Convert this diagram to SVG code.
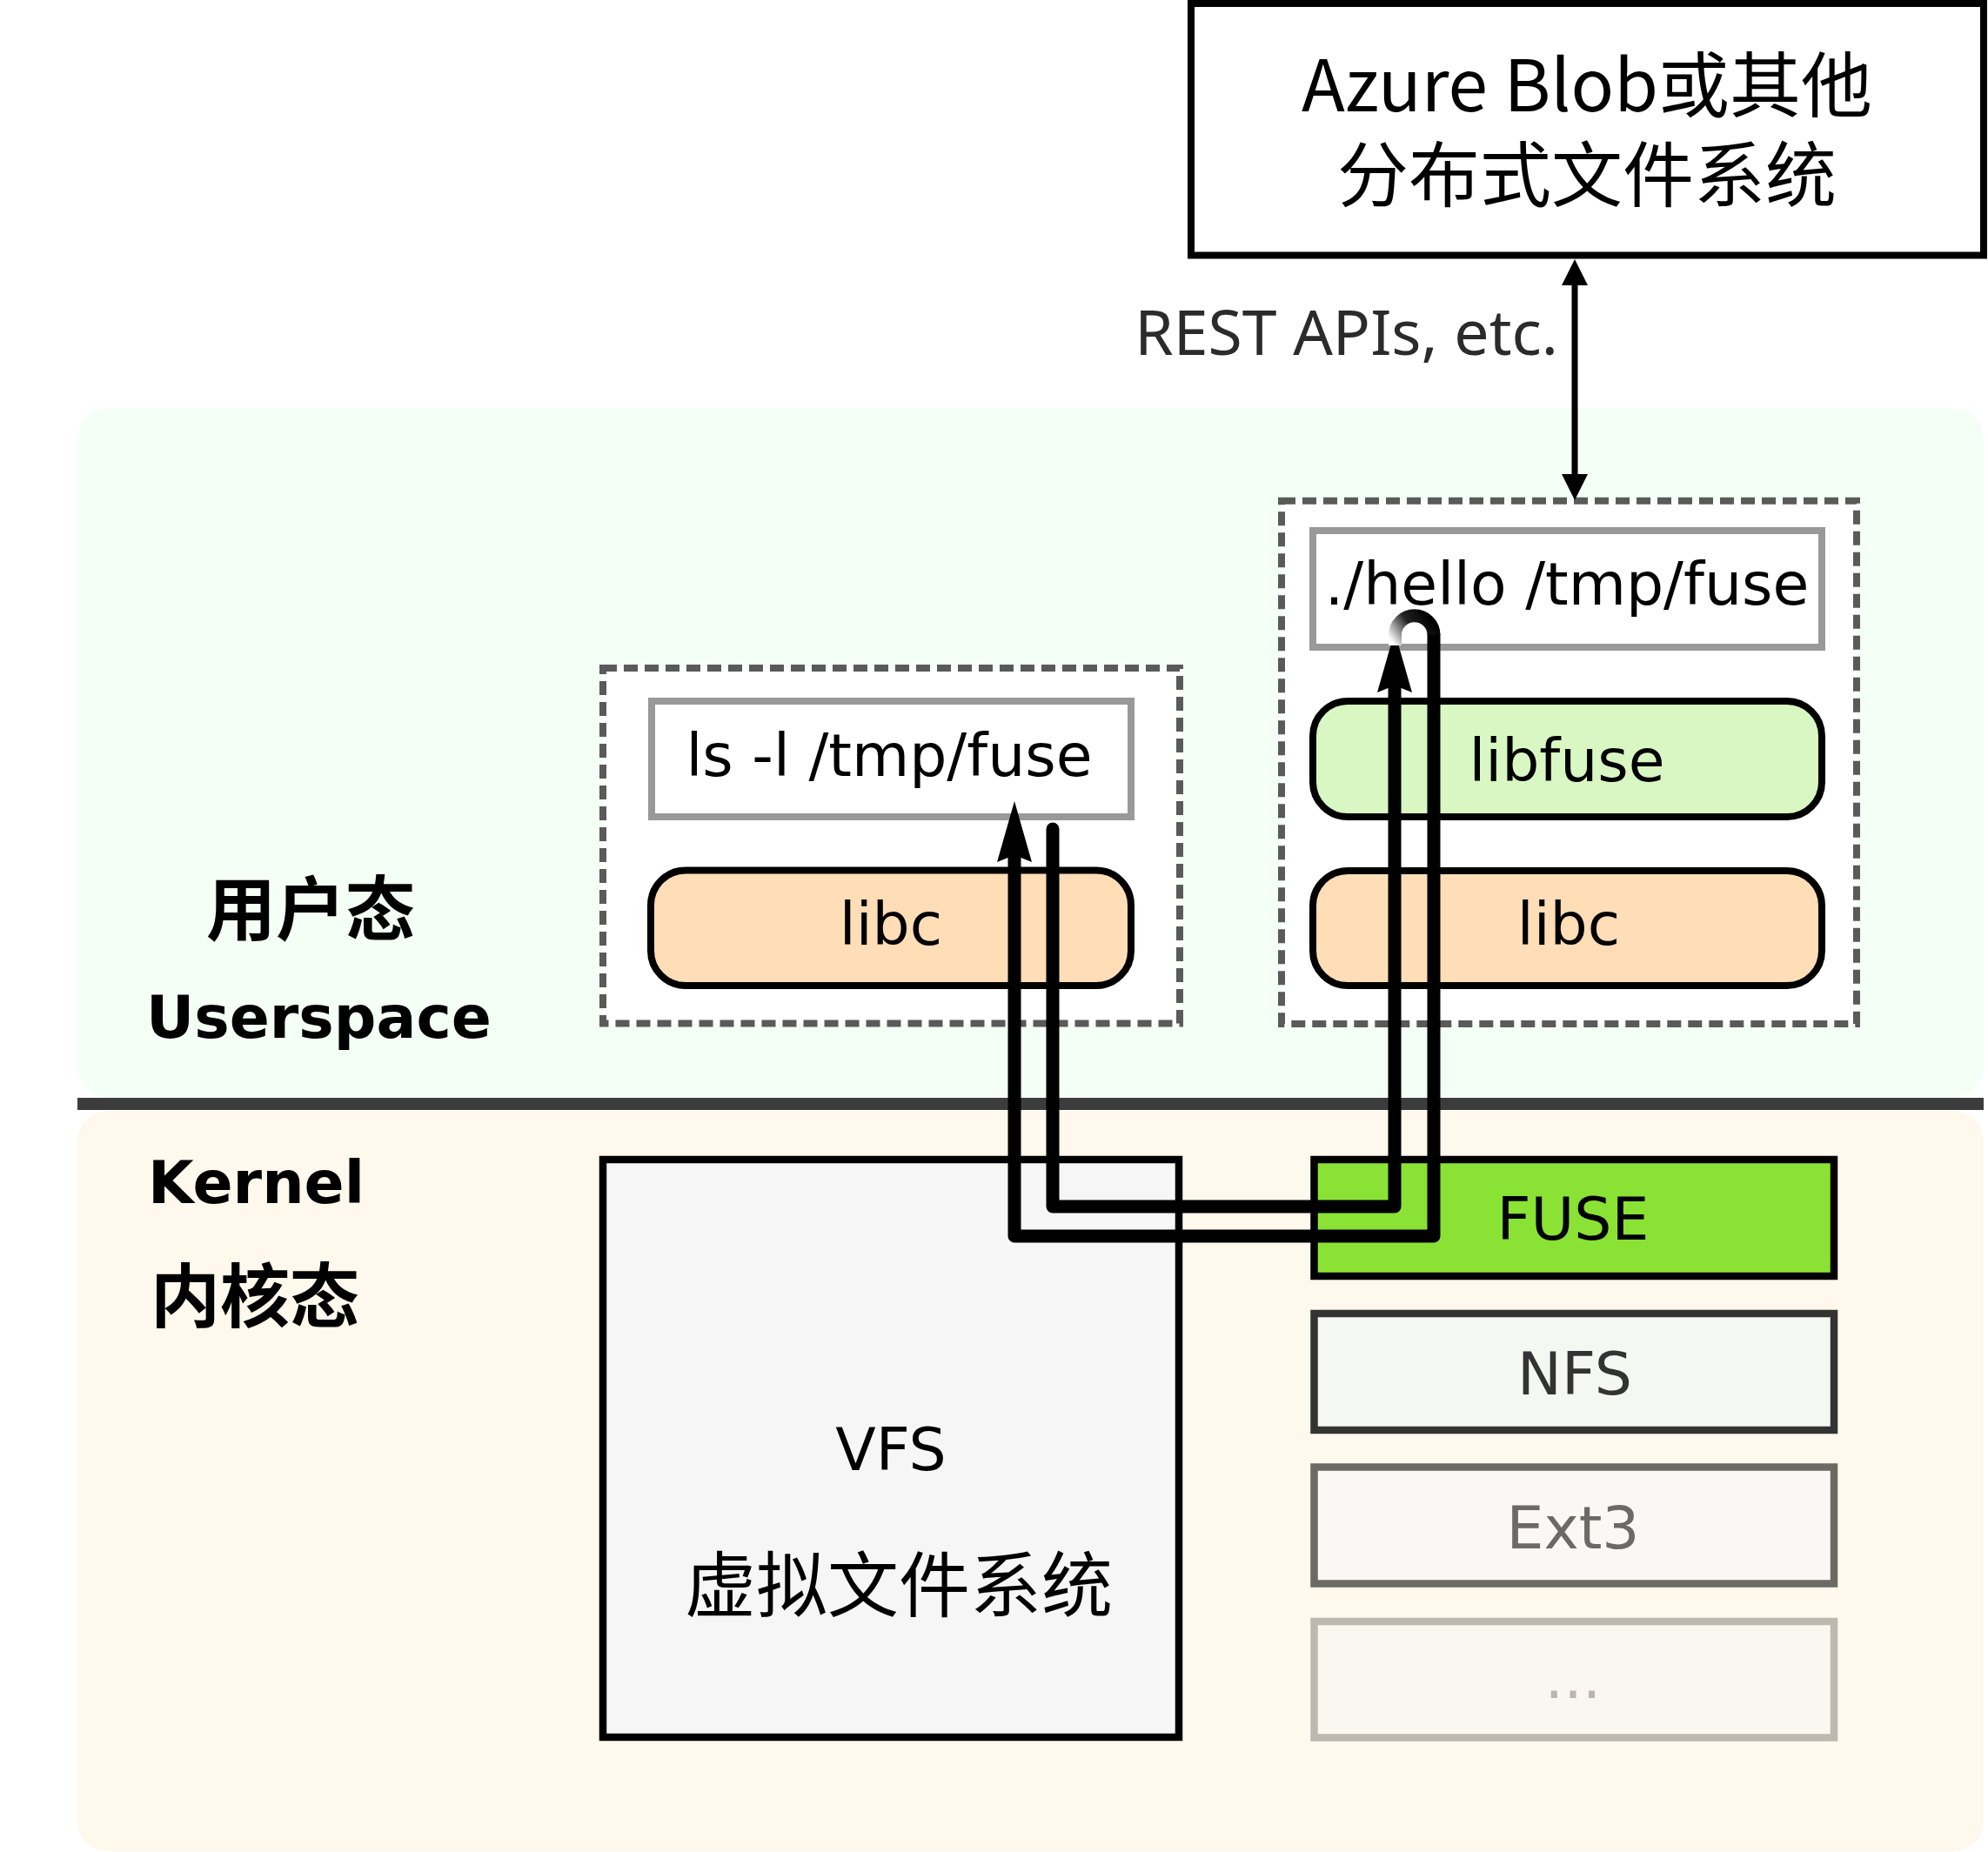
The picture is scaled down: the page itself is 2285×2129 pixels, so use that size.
<svg xmlns="http://www.w3.org/2000/svg" width="2285" height="2129" viewBox="0 0 2285 2129">
<style>
.lat{font-family:"DejaVu Sans",sans-serif;font-size:68px;text-anchor:middle}
.cjk{font-family:"Noto Sans CJK SC",sans-serif}
.bold{font-family:"DejaVu Sans","Noto Sans CJK SC",sans-serif;font-weight:bold}
.dash{fill:#ffffff;stroke:#5a5a5a;stroke-width:8;stroke-dasharray:16,8}
.cmd{fill:#ffffff;stroke:#999999;stroke-width:8}
.lib{stroke:#000;stroke-width:8}
.fs{stroke-width:8.5}
.conn{fill:none;stroke:#000;stroke-width:15;stroke-linejoin:round;stroke-linecap:round}
</style>
<defs>
<linearGradient id="fade" gradientUnits="userSpaceOnUse" x1="1642" y1="708" x2="1600" y2="738">
<stop offset="0" stop-color="#000"/>
<stop offset="0.45" stop-color="#222"/>
<stop offset="1" stop-color="#ffffff"/>
</linearGradient>
</defs>

<g id="backgrounds">
<rect x="89" y="469" width="2191" height="792" rx="35" fill="#f4fff5"/>
<rect x="89" y="1277" width="2191" height="851" rx="35" fill="#fff8ec"/>
<line x1="89" y1="1269" x2="2280" y2="1269" stroke="#3c3c3c" stroke-width="14"/>
</g>

<g id="labels">
<text class="bold" x="357" y="1074" font-size="80" text-anchor="middle">用户态</text>
<text class="bold" x="168" y="1193" font-size="68">Userspace</text>
<text class="bold" x="170" y="1383" font-size="68">Kernel</text>
<text class="bold" x="173" y="1519" font-size="80">内核态</text>
</g>

<g id="azure">
<rect x="1369" y="4" width="911" height="289.5" fill="#ffffff" stroke="#000" stroke-width="8"/>
<text class="cjk" font-size="82" text-anchor="middle"><tspan x="1824" y="128">Azure Blob或其他</tspan><tspan x="1824" y="231">分布式文件系统</tspan></text>
</g>

<g id="rest-label">
<text x="1791" y="408" font-family="'Noto Sans',sans-serif" font-size="71.5" fill="#2b2b2b" text-anchor="end">REST APIs, etc.</text>
</g>

<g id="ls-process">
<rect class="dash" x="693" y="768" width="663" height="408.5"/>
</g>
<g id="ls-cmd">
<rect class="cmd" x="749" y="806" width="551" height="133"/>
<text class="lat" x="1022" y="892" font-size="69">ls -l /tmp/fuse</text>
</g>
<g id="ls-libc">
<rect class="lib" x="748" y="1000.5" width="552" height="132.5" rx="40" fill="#ffddb7"/>
<text class="lat" x="1024" y="1086">libc</text>
</g>

<g id="hello-process">
<rect class="dash" x="1473" y="575.7" width="661" height="601.3"/>
</g>
<g id="hello-cmd">
<rect class="cmd" x="1509" y="610" width="585" height="134"/>
<text class="lat" x="1801" y="695" font-size="64.5">./hello /tmp/fuse</text>
</g>
<g id="libfuse">
<rect class="lib" x="1509" y="806" width="585" height="133" rx="40" fill="#d9f7c2"/>
<text class="lat" x="1801" y="898">libfuse</text>
</g>
<g id="hello-libc">
<rect class="lib" x="1509" y="1001" width="585" height="132" rx="40" fill="#ffddb7"/>
<text class="lat" x="1803" y="1086">libc</text>
</g>

<g id="vfs">
<rect x="693" y="1333" width="662" height="664" fill="#f6f6f6" stroke="#000" stroke-width="8.5"/>
<text class="lat" x="1024" y="1690" font-size="66.5">VFS</text>
<text class="cjk" x="1033" y="1852" font-size="82" text-anchor="middle">虚拟文件系统</text>
</g>

<g id="fuse">
<rect class="fs" x="1510.5" y="1333" width="597.5" height="134" fill="#8ae234" stroke="#000"/>
<text class="lat" x="1808" y="1425" font-size="69">FUSE</text>
</g>
<g id="nfs">
<rect class="fs" x="1510.5" y="1510" width="597.5" height="134" fill="#f5f7f3" stroke="#333333"/>
<text class="lat" x="1810" y="1603" fill="#333333">NFS</text>
</g>
<g id="ext3">
<rect class="fs" x="1510.5" y="1686.5" width="597.5" height="134" fill="#f9f8f4" stroke="#6b6a64"/>
<text class="lat" x="1808" y="1780" fill="#6b6a64">Ext3</text>
</g>
<g id="more">
<rect class="fs" x="1510.5" y="1864" width="597.5" height="133.5" fill="#faf7f1" stroke="#bdb9b0"/>
<text class="lat" x="1808" y="1952" fill="#bab6ae">...</text>
</g>

<g id="connectors">
<line x1="1810" y1="320" x2="1810" y2="552" stroke="#000" stroke-width="7"/>
<polygon points="1810,298 1825,328 1795,328"/>
<polygon points="1810,575 1795,545 1825,545"/>
<path class="conn" d="M1210,953 V1387 H1603 V790"/>
<polygon points="1603,726 1623,796 1603,788 1583,796"/>
<path class="conn" d="M1166,985 V1421 H1648 V730" stroke-linecap="butt"/>
<path d="M1648,730 A22.25,22.25 0 0 0 1603.5,730 V742" fill="none" stroke="url(#fade)" stroke-width="15"/>
<polygon points="1166,921 1186,991 1166,983 1146,991"/>
</g>
</svg>
